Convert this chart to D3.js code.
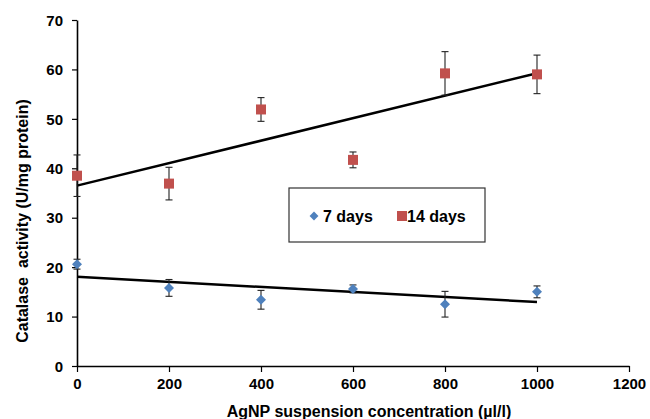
<!DOCTYPE html>
<html><head><meta charset="utf-8">
<script src="https://cdn.jsdelivr.net/npm/d3@7"></script>
<style>body{margin:0;background:#fff}text{font-family:"Liberation Sans",Arial,sans-serif;font-weight:bold}</style>
</head><body><svg id="c" width="650" height="419"></svg>
<script>
const concentrations = [0, 200, 400, 600, 800, 1000];
const days7 = [20.6, 15.8, 13.4, 15.6, 12.5, 15.0];
const days7Err = [1.0, 1.7, 1.9, 0.8, 2.6, 1.2];
const days14 = [38.5, 36.9, 51.9, 41.7, 59.2, 59.0];
const days14Err = [4.2, 3.3, 2.4, 1.6, 4.4, 3.9];
const xTicks = [0, 200, 400, 600, 800, 1000, 1200];
const yTicks = [0, 10, 20, 30, 40, 50, 60, 70];
const seriesNames = ["7 days", "14 days"];

const svg = d3.select("#c");
const x = d3.scaleLinear().domain([0, 1200]).range([77, 629]);
const y = d3.scaleLinear().domain([0, 70]).range([366, 20]);

// axes
const gx = svg.append("g").attr("transform", `translate(0,${y(0)})`)
  .call(d3.axisBottom(x).tickValues(xTicks).tickFormat(d3.format("d")).tickSize(6).tickPadding(6).tickSizeOuter(0));
const gy = svg.append("g").attr("transform", `translate(${x(0)},0)`)
  .call(d3.axisLeft(y).tickValues(yTicks).tickFormat(d3.format("d")).tickSize(5).tickPadding(9).tickSizeOuter(0));
[gx, gy].forEach(g => {
  g.select(".domain").attr("stroke", "#000").attr("stroke-width", 1.6);
  g.selectAll(".tick line").attr("stroke", "#000").attr("stroke-width", 1.2);
  g.selectAll(".tick text").attr("fill", "#000").style("font-size", "15px").style("font-family", "Liberation Sans, Arial").style("font-weight", "bold");
});
gy.selectAll(".tick text").attr("dy", "0.35em");

// regression lines
function fit(xs, ys) {
  const mx = d3.mean(xs), my = d3.mean(ys);
  const sxy = d3.sum(xs, (v, i) => (v - mx) * (ys[i] - my));
  const sxx = d3.sum(xs, v => (v - mx) ** 2);
  const b = sxy / sxx; return [my - b * mx, b];
}
[days7, days14].forEach(ys => {
  const [a, b] = fit(concentrations, ys);
  const x0 = concentrations[0], x1 = concentrations[concentrations.length - 1];
  svg.append("line").attr("x1", x(x0)).attr("y1", y(a + b * x0))
    .attr("x2", x(x1)).attr("y2", y(a + b * x1))
    .attr("stroke", "#000").attr("stroke-width", 2.5);
});

// error bars
function errBars(vals, errs) {
  const g = svg.append("g").attr("stroke", "#222").attr("stroke-width", 1.1);
  concentrations.forEach((c, i) => {
    const cx = x(c), lo = y(vals[i] - errs[i]), hi = y(vals[i] + errs[i]);
    g.append("line").attr("x1", cx).attr("x2", cx).attr("y1", lo).attr("y2", hi);
    g.append("line").attr("x1", cx - 3.5).attr("x2", cx + 3.5).attr("y1", lo).attr("y2", lo);
    g.append("line").attr("x1", cx - 3.5).attr("x2", cx + 3.5).attr("y1", hi).attr("y2", hi);
  });
}
errBars(days7, days7Err);
errBars(days14, days14Err);

const blue = "#4f81bd", red = "#c0504d";
svg.append("g").selectAll("path").data(days7).join("path")
  .attr("d", d3.symbol(d3.symbolDiamond2, 64))
  .attr("transform", (d, i) => `translate(${x(concentrations[i])},${y(d)})`)
  .attr("fill", blue);
svg.append("g").selectAll("rect").data(days14).join("rect")
  .attr("x", (d, i) => x(concentrations[i]) - 5).attr("y", d => y(d) - 5)
  .attr("width", 10).attr("height", 10).attr("fill", red);

// legend
const lg = svg.append("g");
lg.append("rect").attr("x", 289).attr("y", 188).attr("width", 196).attr("height", 54)
  .attr("fill", "#fff").attr("stroke", "#333").attr("stroke-width", 1.2);
lg.append("path").attr("d", d3.symbol(d3.symbolDiamond2, 50)()).attr("transform", "translate(314,216)").attr("fill", blue);
lg.append("text").attr("x", 323).attr("y", 216).attr("dy", "0.35em").style("font-size", "16px").text(seriesNames[0]);
lg.append("rect").attr("x", 397).attr("y", 211).attr("width", 10).attr("height", 10).attr("fill", red);
lg.append("text").attr("x", 407).attr("y", 216).attr("dy", "0.35em").style("font-size", "16px").text(seriesNames[1]);

// titles
svg.append("text").attr("x", 369).attr("y", 411).attr("dy", "0.35em").attr("text-anchor", "middle")
  .style("font-size", "16px").text("AgNP suspension concentration (µl/l)");
svg.append("text").attr("transform", "translate(22,221) rotate(-90)").attr("dy", "0.35em").attr("text-anchor", "middle")
  .style("font-size", "16px").attr("xml:space", "preserve").style("white-space", "pre").text("Catalase  activity (U/mg protein)");
</script></body></html>
